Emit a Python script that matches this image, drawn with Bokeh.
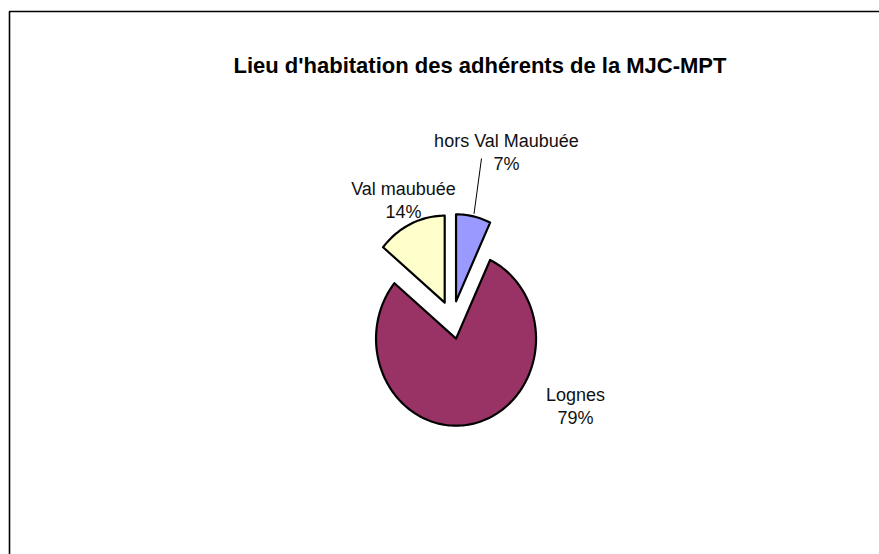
import math
from bokeh.plotting import figure
from bokeh.models import Range1d
from bokeh.core.properties import value
from bokeh.embed import file_html
from bokeh.resources import INLINE

# ---- data ----
title_text = "Lieu d'habitation des adhérents de la MJC-MPT"
categories = ["hors Val Maubuée", "Lognes", "Val maubuée"]
shares = [7, 79, 14]
colors = ["#9999FF", "#993366", "#FFFFCC"]

# ---- layout (pixel-like data space, y downwards) ----
W, H = 879, 554
cx, cy = 451.7, 319.5      # pie centre
rx, ry = 80.0, 87.0        # pie radii (slightly elliptical like the original)
explode = 0.22             # fraction of radius
label_anchor = {           # (x, baseline of first line)
    "hors Val Maubuée": (506, 140),
    "Lognes": (575, 394),
    "Val maubuée": (403, 188),
}
line_gap = 23

p = figure(width=W, height=H, output_backend="svg", toolbar_location=None,
           x_range=Range1d(0, W), y_range=Range1d(H, 0),
           x_axis_type=None, y_axis_type=None, min_border=0)
p.min_border_left = p.min_border_right = p.min_border_top = p.min_border_bottom = 0
p.outline_line_color = None
p.grid.visible = False
p.background_fill_color = "white"
p.border_fill_color = "white"

# chart-area frame (left and top edges visible)
p.multi_line(xs=[[9, 9, W + 20], ], ys=[[H + 20, 11, 11]], line_color="black", line_width=1.6)

total = float(sum(shares))
xs, ys, mids = [], [], []
cum = 0.0
for v in shares:
    a0 = cum / total * 2 * math.pi
    cum += v
    a1 = cum / total * 2 * math.pi
    mid = (a0 + a1) / 2
    mids.append(mid)
    ox = cx + explode * rx * math.sin(mid)
    oy = cy - explode * ry * math.cos(mid)
    n = max(8, int(200 * (a1 - a0) / (2 * math.pi)))
    px = [ox]
    py = [oy]
    for i in range(n + 1):
        t = a0 + (a1 - a0) * i / n
        px.append(ox + rx * math.sin(t))
        py.append(oy - ry * math.cos(t))
    xs.append(px)
    ys.append(py)

p.patches(xs=xs, ys=ys, fill_color=colors, line_color="black", line_width=2.2,
          line_join="round")

# leader line for the small slice
i0 = 0
ox = cx + explode * rx * math.sin(mids[i0])
oy = cy - explode * ry * math.cos(mids[i0])
ex = ox + 1.03 * rx * math.sin(mids[i0])
ey = oy - 1.03 * ry * math.cos(mids[i0])
p.line(x=[481, ex], y=[158, ey], line_color="black", line_width=1)

# labels
lx, ly, lt = [], [], []
for c, v in zip(categories, shares):
    x, y = label_anchor[c]
    lx += [x, x]
    ly += [y, y + line_gap]
    lt += [c, f"{v}%"]
p.text(x=lx, y=ly, text=lt, text_align="center", text_baseline="alphabetic",
       text_font=value("Liberation Sans"), text_font_size="18px", text_color="#111111")

# title
p.text(x=[479.5], y=[65], text=[title_text], text_align="center", text_baseline="alphabetic",
       text_font=value("Liberation Sans"), text_font_size="22px", text_font_style="bold",
       text_color="black")

open("out.html", "w").write(file_html(p, INLINE))
